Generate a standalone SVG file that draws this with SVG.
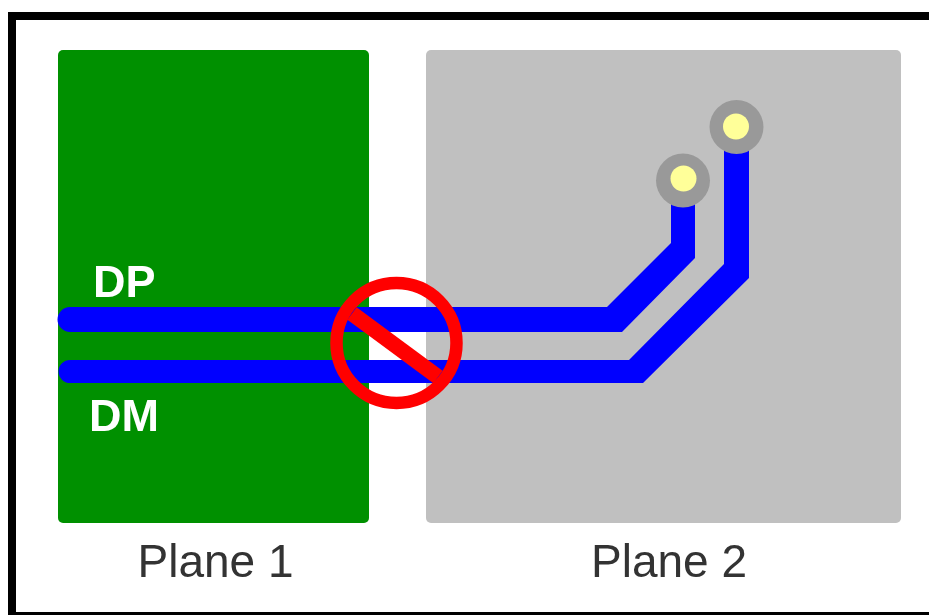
<svg xmlns="http://www.w3.org/2000/svg" width="929" height="615" viewBox="0 0 929 615">
<style>
.plane{stroke:none}
.trace{fill:#0000ff;stroke:none}
.pad{fill:#999999}
.hole{fill:#ffff99}
.lbl{font-family:"Liberation Sans",Arial,sans-serif}
.sig{fill:#ffffff;font-weight:bold;font-size:45px}
.cap{fill:#333333;font-size:46px}
.no{fill:none;stroke:#ff0000}
</style>
<defs><filter id="soft" x="-2%" y="-2%" width="104%" height="104%" color-interpolation-filters="sRGB"><feGaussianBlur stdDeviation="0.7"/></filter></defs>
<g filter="url(#soft)">
<rect x="0" y="0" width="929" height="615" fill="#ffffff"/>
<g id="frame"><rect x="12" y="16" width="930" height="600" fill="none" stroke="#000000" stroke-width="8"/></g>
<g id="plane1"><rect class="plane" x="58" y="50" width="311" height="473" rx="5" fill="#009000"/></g>
<g id="plane2"><rect class="plane" x="426" y="50" width="475" height="473" rx="5" fill="#c0c0c0"/></g>
<g id="connectors">
<path id="dp" class="trace" d="M70 307H607L671 243V180H695V258L622 332H70A12.500 12.500 0 0 1 70 307Z"/>
<path id="dm" class="trace" d="M70 360H629L724 264V127H749V278L643 383H70A11.500 11.500 0 0 1 70 360Z"/>
</g>
<g id="via1"><circle class="pad" cx="683" cy="180.500" r="27"/><circle class="hole" cx="683.500" cy="178.500" r="13"/></g>
<g id="via2"><circle class="pad" cx="736.500" cy="127" r="27"/><circle class="hole" cx="736" cy="126.500" r="13"/></g>
<g id="no-symbol"><circle class="no" cx="396.500" cy="343" r="60" stroke-width="12.500"/><line class="no" x1="352" y1="313.500" x2="438" y2="377" stroke-width="15.500"/></g>
<g id="label-dp"><text class="lbl sig" x="93" y="297">DP</text></g>
<g id="label-dm"><text class="lbl sig" x="89" y="431">DM</text></g>
<g id="label-plane1"><text class="lbl cap" x="137.500" y="577">Plane 1</text></g>
<g id="label-plane2"><text class="lbl cap" x="591" y="577">Plane 2</text></g>
</g>
</svg>
